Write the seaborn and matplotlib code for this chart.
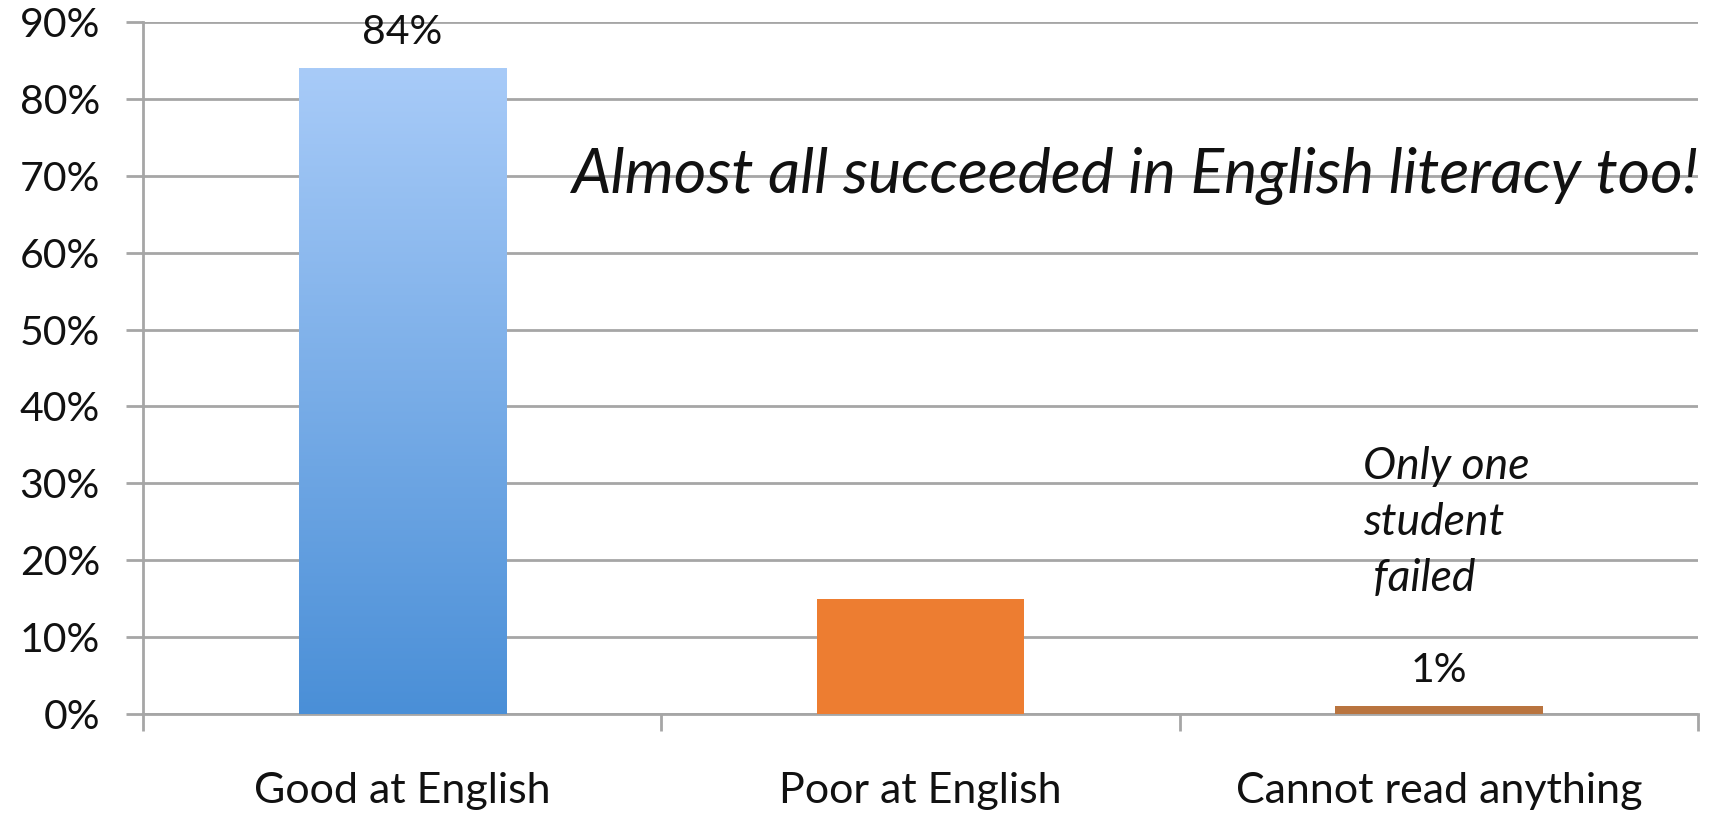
import numpy as np
import pandas as pd
import matplotlib
matplotlib.use("Agg")
import matplotlib.pyplot as plt
from matplotlib.colors import LinearSegmentedColormap
import seaborn as sns

# values
categories = ["Good at English", "Poor at English", "Cannot read anything"]
shares = [0.84, 0.15, 0.01]
bar_labels = ["84%", "", "1%"]
bar_colors = ["#79acea", "#ed7d31", "#b9743f"]
ytick_values = [0.0, 0.1, 0.2, 0.3, 0.4, 0.5, 0.6, 0.7, 0.8, 0.9]

df = pd.DataFrame({"category": categories, "share": shares})

sns.set_theme(style="white")
plt.rcParams["font.family"] = ["Lato", "DejaVu Sans"]

fig = plt.figure(figsize=(17.23, 8.16), dpi=100)
ax = fig.add_axes([0.083, 0.125, 0.9025, 0.848])

sns.barplot(data=df, x="category", y="share", hue="category", palette=bar_colors,
            order=categories, width=0.40, legend=False, ax=ax, saturation=1,
            linewidth=0, zorder=3)

# gradient on the blue bar, light at the top
blue = ax.patches[0]
x0, y0 = blue.get_x(), blue.get_y()
w, h = blue.get_width(), blue.get_height()
cmap = LinearSegmentedColormap.from_list("blu", ["#4a8fd7", "#a8cbf8"])
grad = np.linspace(0, 1, 256).reshape(-1, 1)
im = ax.imshow(grad, cmap=cmap, origin="lower", aspect="auto",
               extent=[x0, x0 + w, y0, y0 + h], zorder=4)
im.set_clip_path(blue)

ax.set_xlim(-0.5, 2.5)
ax.set_ylim(0, 0.9)
ax.set_yticks(ytick_values)
ax.set_yticklabels([f"{int(round(v * 100))}%" for v in ytick_values], fontsize=29.5)
ax.set_xticks(range(len(categories)))
ax.set_xticklabels(categories, fontsize=31)
ax.set_xlabel("")
ax.set_ylabel("")

ax.grid(axis="y", color="#a6a6a6", linewidth=2, zorder=0)
for s in ["top", "right"]:
    ax.spines[s].set_visible(False)
ax.spines["left"].set_color("#a6a6a6")
ax.spines["left"].set_linewidth(2)
ax.spines["bottom"].set_color("#a6a6a6")
ax.spines["bottom"].set_linewidth(2)

ax.tick_params(axis="y", which="major", left=True, length=12, width=2,
               color="#a6a6a6", pad=19, labelcolor="#111111")
ax.tick_params(axis="x", which="major", bottom=False, pad=36, labelcolor="#111111")
ax.set_xticks([-0.5, 0.5, 1.5, 2.5], minor=True)
ax.tick_params(axis="x", which="minor", bottom=True, length=12, width=2,
               color="#a6a6a6")

for i, lab in enumerate(bar_labels):
    if lab:
        ax.text(i, shares[i] + 0.022, lab, ha="center", va="bottom", fontsize=29.5,
                color="#111111")

ax.text(1.414, 0.70, "Almost all succeeded in English literacy too!", ha="center",
        va="center", fontsize=45, style="italic", color="#111111")
ax.text(1.853, 0.348, "Only one\nstudent\n failed", ha="left", va="top",
        fontsize=32, style="italic", color="#111111", linespacing=1.45)

fig.savefig("out.png", dpi=100, facecolor="white")
